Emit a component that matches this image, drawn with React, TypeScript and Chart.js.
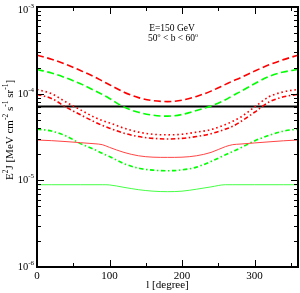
import React, { useEffect, useRef } from "react";
import { Chart, registerables } from "chart.js";

Chart.register(...registerables);

const LONGITUDE = [0, 20, 40, 60, 80, 90, 100, 120, 140, 160, 180, 200, 220, 240, 260, 270, 280, 300, 320, 340, 360];

const RED_DASHED = [2.78e-4, 2.5e-4, 2.18e-4, 1.85e-4, 1.55e-4, 1.4e-4, 1.27e-4, 1.04e-4, 9.0e-5, 8.3e-5, 8.1e-5, 8.4e-5, 9.3e-5, 1.07e-4, 1.28e-4, 1.4e-4, 1.52e-4, 1.82e-4, 2.15e-4, 2.47e-4, 2.78e-4];
const GREEN_DASHED = [1.9e-4, 1.73e-4, 1.52e-4, 1.3e-4, 1.08e-4, 9.8e-5, 8.8e-5, 7.0e-5, 6.1e-5, 5.65e-5, 5.5e-5, 5.75e-5, 6.4e-5, 7.2e-5, 8.5e-5, 9.5e-5, 1.05e-4, 1.3e-4, 1.58e-4, 1.78e-4, 1.9e-4];
const RED_DOTTED = [1.12e-4, 1.0e-4, 8.0e-5, 6.5e-5, 5.3e-5, 4.9e-5, 4.6e-5, 4.0e-5, 3.6e-5, 3.4e-5, 3.35e-5, 3.4e-5, 3.6e-5, 3.85e-5, 4.4e-5, 4.8e-5, 5.3e-5, 7.0e-5, 9.2e-5, 1.05e-4, 1.12e-4];
const RED_DASHDOT = [9.8e-5, 8.8e-5, 7.0e-5, 5.7e-5, 4.7e-5, 4.3e-5, 4.0e-5, 3.5e-5, 3.2e-5, 3.05e-5, 3.0e-5, 3.05e-5, 3.2e-5, 3.45e-5, 3.9e-5, 4.2e-5, 4.7e-5, 6.1e-5, 8.0e-5, 9.2e-5, 9.8e-5];
const GREEN_DASHDOT = [3.9e-5, 3.7e-5, 3.25e-5, 2.65e-5, 2.25e-5, 2.05e-5, 1.88e-5, 1.56e-5, 1.38e-5, 1.31e-5, 1.29e-5, 1.32e-5, 1.42e-5, 1.65e-5, 1.97e-5, 2.15e-5, 2.35e-5, 2.85e-5, 3.3e-5, 3.7e-5, 3.9e-5];
const RED_SOLID = [2.92e-5, 2.87e-5, 2.8e-5, 2.72e-5, 2.64e-5, 2.58e-5, 2.4e-5, 2.1e-5, 1.92e-5, 1.85e-5, 1.84e-5, 1.85e-5, 1.92e-5, 2.1e-5, 2.45e-5, 2.58e-5, 2.62e-5, 2.7e-5, 2.78e-5, 2.86e-5, 2.92e-5];
const GREEN_SOLID = [8.9e-6, 8.9e-6, 8.9e-6, 8.9e-6, 8.9e-6, 8.9e-6, 8.85e-6, 8.3e-6, 7.8e-6, 7.5e-6, 7.4e-6, 7.5e-6, 7.9e-6, 8.4e-6, 8.9e-6, 8.9e-6, 8.9e-6, 8.9e-6, 8.9e-6, 8.9e-6, 8.9e-6];

const LIMIT_L = [0, 360];
const LIMIT_VALUES = [7.1e-5, 7.1e-5];

const X_MAJOR_TICKS = [0, 100, 200, 300];
const X_MINOR_TICKS = [50, 150, 250, 350];
const Y_DECADES = [-6, -5, -4, -3];

const ANNOTATION_LINE1 = "E=150 GeV";
const X_TITLE = "l [degree]";

const SERIF = "'Liberation Serif', 'Times New Roman', serif";

function pts(xs: number[], ys: number[]) {
  return xs.map((x, i) => ({ x, y: ys[i] }));
}

function drawSegs(ctx: CanvasRenderingContext2D, segs: [string, boolean][], x: number, y: number, size: number, supSize: number, supRise: number) {
  let cx = x;
  for (const [t, sup] of segs) {
    ctx.font = `${sup ? supSize : size}px ${SERIF}`;
    ctx.fillText(t, cx, sup ? y - supRise : y);
    cx += ctx.measureText(t).width;
  }
  return cx - x;
}
function segsWidth(ctx: CanvasRenderingContext2D, segs: [string, boolean][], size: number, supSize: number) {
  let w = 0;
  for (const [t, sup] of segs) {
    ctx.font = `${sup ? supSize : size}px ${SERIF}`;
    w += ctx.measureText(t).width;
  }
  return w;
}

const framePlugin = {
  id: "framePlugin",
  afterDatasetsDraw(chart: any) {
    const { ctx, chartArea: a, scales } = chart;
    const xs = scales.x;
    const ys = scales.y;
    ctx.save();
    ctx.strokeStyle = "#000";
    ctx.fillStyle = "#000";
    ctx.lineWidth = 1;
    const line = (x1: number, y1: number, x2: number, y2: number) => {
      ctx.beginPath();
      ctx.moveTo(x1, y1);
      ctx.lineTo(x2, y2);
      ctx.stroke();
    };
    for (const v of X_MAJOR_TICKS) {
      const p = Math.round(xs.getPixelForValue(v)) + 0.5;
      line(p, a.bottom, p, a.bottom - 7);
      line(p, a.top, p, a.top + 7);
    }
    for (const v of X_MINOR_TICKS) {
      const p = Math.round(xs.getPixelForValue(v)) + 0.5;
      line(p, a.bottom, p, a.bottom - 4);
      line(p, a.top, p, a.top + 4);
    }
    for (const d of Y_DECADES) {
      for (let m = 1; m <= 9; m++) {
        const v = m * Math.pow(10, d);
        if (v > 1.0001e-3) break;
        const p = Math.round(ys.getPixelForValue(v)) + 0.5;
        const len = m === 1 ? 7 : 4;
        line(a.left, p, a.left + len, p);
        line(a.right, p, a.right - len, p);
      }
    }
    ctx.lineWidth = 2;
    ctx.strokeRect(a.left, a.top, a.right - a.left, a.bottom - a.top);

    ctx.textAlign = "center";
    ctx.textBaseline = "alphabetic";
    ctx.font = `11px ${SERIF}`;
    for (const v of X_MAJOR_TICKS) {
      ctx.fillText(String(v), xs.getPixelForValue(v), 279);
    }
    ctx.textAlign = "left";
    for (const d of Y_DECADES) {
      const p = ys.getPixelForValue(Math.pow(10, d));
      const base = Math.max(p + 3, 13);
      const segs: [string, boolean][] = [["10", false], [String(d), true]];
      const w = segsWidth(ctx, segs, 10.5, 7);
      drawSegs(ctx, segs, 34 - w, base, 10.5, 7, 5);
    }
    ctx.font = `11px ${SERIF}`;
    ctx.textAlign = "center";
    ctx.fillText(X_TITLE, (a.left + a.right) / 2, 288);

    ctx.save();
    ctx.translate(13, 130);
    ctx.rotate(-Math.PI / 2);
    ctx.textAlign = "left";
    const ySegs: [string, boolean][] = [
      ["E", false], ["2", true], ["J [MeV cm", false], ["-2", true], [" s", false], ["-1", true], [" sr", false], ["-1", true], ["]", false],
    ];
    const yw = segsWidth(ctx, ySegs, 11, 7.5);
    drawSegs(ctx, ySegs, -yw / 2, 0, 11, 7.5, 5);
    ctx.restore();

    ctx.textAlign = "left";
    ctx.font = `9.5px ${SERIF}`;
    const w1 = ctx.measureText(ANNOTATION_LINE1).width;
    ctx.fillText(ANNOTATION_LINE1, 172 - w1 / 2, 31);
    const aSegs: [string, boolean][] = [["50", false], ["o", true], [" < b < 60", false], ["o", true]];
    const aw = segsWidth(ctx, aSegs, 9.5, 6);
    drawSegs(ctx, aSegs, 173 - aw / 2, 41, 9.5, 6, 4);

    ctx.restore();
  },
};

export default function App() {
  const ref = useRef<HTMLCanvasElement>(null);
  useEffect(() => {
    if (!ref.current) return;
    const mk = (label: string, ys: number[], color: string, width: number, dash: number[]) => ({
      label,
      data: pts(LONGITUDE, ys),
      borderColor: color,
      backgroundColor: color,
      borderWidth: width,
      borderDash: dash,
      pointRadius: 0,
      fill: false,
      cubicInterpolationMode: "monotone" as const,
    });
    const chart = new Chart(ref.current, {
      type: "line",
      data: {
        datasets: [
          mk("green solid", GREEN_SOLID, "#44ff44", 1, []),
          mk("red solid", RED_SOLID, "#ff4444", 1, []),
          mk("green dash-dot", GREEN_DASHDOT, "#00ff00", 1.6, [4.5, 2.5, 1.5, 2.5]),
          mk("red dash-dot", RED_DASHDOT, "#ff0000", 1.6, [4.5, 2.5, 1.5, 2.5]),
          mk("red dotted", RED_DOTTED, "#ff0000", 1.6, [1.6, 2.8]),
          mk("green dashed", GREEN_DASHED, "#00ff00", 1.6, [7, 3.5]),
          mk("red dashed", RED_DASHED, "#ff0000", 1.6, [7, 3.5]),
          {
            label: "limit",
            data: pts(LIMIT_L, LIMIT_VALUES),
            borderColor: "#000",
            borderWidth: 2,
            pointRadius: 0,
            fill: false,
          },
        ],
      },
      options: {
        responsive: false,
        animation: false,
        layout: { padding: { left: 37, right: 2, top: 7, bottom: 26 } },
        plugins: { legend: { display: false }, tooltip: { enabled: false } },
        scales: {
          x: { type: "linear", min: 0, max: 360, display: false },
          y: { type: "logarithmic", min: 1e-6, max: 1e-3, display: false },
        },
      },
      plugins: [framePlugin],
    });
    return () => chart.destroy();
  }, []);
  return (
    <div style={{ position: "fixed", left: 0, top: 0, width: 300, height: 293, background: "#fff" }}>
      <canvas ref={ref} width={300} height={293} style={{ width: 300, height: 293, display: "block" }} />
    </div>
  );
}
